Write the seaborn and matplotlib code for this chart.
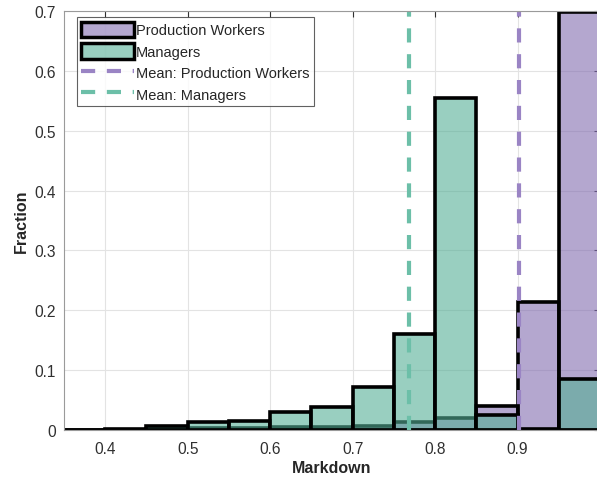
import numpy as np
import pandas as pd
import seaborn as sns
import matplotlib.pyplot as plt
from matplotlib.colors import to_rgba
from matplotlib.patches import Patch
from matplotlib.lines import Line2D

# bin edges of the histogram (width 0.05)
bin_edges = [0.35, 0.40, 0.45, 0.50, 0.55, 0.60, 0.65, 0.70, 0.75, 0.80, 0.85, 0.90, 0.95, 1.00]

# fraction of workers in each bin
prod_frac = [0.0, 0.0005, 0.002, 0.003, 0.003, 0.0045, 0.005, 0.007, 0.013, 0.0195, 0.040, 0.214, 0.698]
mgr_frac = [0.0005, 0.001, 0.007, 0.0128, 0.0145, 0.0295, 0.038, 0.072, 0.160, 0.554, 0.0255, 0.002, 0.086]

# group means
mean_prod = 0.902
mean_mgr = 0.7685

labels = ["Production Workers", "Managers"]
purple = "#826cb0"
green = "#55af96"
purple_line = "#9a84c4"
green_line = "#6cbfa8"
dash = (0, (3.4, 2.8))

centers = [(a + b) / 2 for a, b in zip(bin_edges[:-1], bin_edges[1:])]
df = pd.DataFrame({
    "markdown": centers * 2,
    "frac": prod_frac + mgr_frac,
    "group": [labels[0]] * len(centers) + [labels[1]] * len(centers),
})

sns.set_style("white")
plt.rcParams["font.family"] = ["Liberation Sans", "DejaVu Sans"]

fig = plt.figure(figsize=(5.97, 4.85), dpi=100)
ax = fig.add_axes([64 / 597, 54 / 485, 536 / 597, 419 / 485])

for grp, col in zip(labels, [purple, green]):
    sub = df[df["group"] == grp]
    sns.histplot(data=sub, x="markdown", weights="frac", bins=bin_edges,
                 stat="count", facecolor=to_rgba(col, 0.6), edgecolor="black",
                 linewidth=2.6, ax=ax)

ax.axvline(mean_prod, color=purple_line, linestyle=dash, linewidth=3)
ax.axvline(mean_mgr, color=green_line, linestyle=dash, linewidth=3)

ax.set_xlim(0.35, 1.0)
ax.set_ylim(0, 0.7)
ax.set_xticks([0.4, 0.5, 0.6, 0.7, 0.8, 0.9, 1.0])
ax.set_xticklabels(["0.4", "0.5", "0.6", "0.7", "0.8", "0.9", "1"])
ax.set_yticks(np.arange(0, 0.71, 0.1))
ax.set_yticklabels(["0", "0.1", "0.2", "0.3", "0.4", "0.5", "0.6", "0.7"])
ax.tick_params(direction="in", length=4, width=0.8, colors="#303030",
               labelsize=11.2, top=True, right=True, pad=6)
ax.tick_params(axis="x", pad=8)
ax.grid(True, color="#e3e3e3", linewidth=0.8)
ax.set_axisbelow(True)
for s in ax.spines.values():
    s.set_color("#9a9a9a")
    s.set_linewidth(0.8)

ax.set_xlabel("Markdown", fontsize=11.5, fontweight="bold", color="#262626", labelpad=3)
ax.set_ylabel("Fraction", fontsize=11.5, fontweight="bold", color="#262626", labelpad=4)

handles = [
    Patch(facecolor=to_rgba(purple, 0.6), edgecolor="black", linewidth=2.5),
    Patch(facecolor=to_rgba(green, 0.6), edgecolor="black", linewidth=2.5),
    Line2D([0], [0], color=purple_line, linestyle=dash, linewidth=3),
    Line2D([0], [0], color=green_line, linestyle=dash, linewidth=3),
]
leg = ax.legend(handles, labels + ["Mean: Production Workers", "Mean: Managers"],
                loc="upper left", bbox_to_anchor=(0.016, 0.995), fontsize=10.5,
                frameon=True, fancybox=False, edgecolor="#3a3a3a",
                borderpad=0.3, labelspacing=0.4, handlelength=3.6,
                handleheight=1.25, handletextpad=0.15, borderaxespad=0.3)
leg.get_frame().set_linewidth(0.8)

fig.savefig("out.png", dpi=100)
